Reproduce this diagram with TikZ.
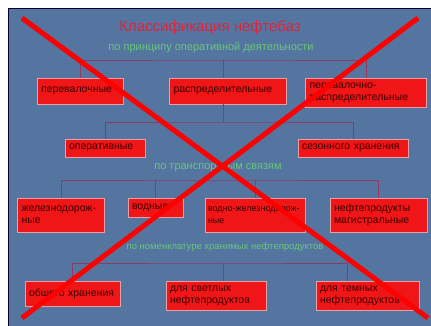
\documentclass[tikz,border=0pt]{standalone}
\usepackage{fontspec}
\setmainfont{Liberation Sans}
\usepackage{tikz}
\usetikzlibrary{positioning,calc}

\definecolor{slideblue}{RGB}{84,117,160}
\definecolor{boxred}{RGB}{240,22,24}
\definecolor{boxedge}{RGB}{232,160,168}
\definecolor{boxtext}{RGB}{60,0,0}
\definecolor{linkred}{RGB}{140,60,100}
\definecolor{subgreen}{RGB}{105,198,122}
\definecolor{headred}{RGB}{225,35,60}

\begin{document}
\begin{tikzpicture}[x=1pt,y=-1pt,
    box/.style={draw=boxedge,line width=0.8pt,fill=boxred,text=boxtext,
      font=\fontsize{10.5}{12}\selectfont,align=left,text width=#1,
      inner xsep=4pt,inner ysep=2pt},
    head/.style={text=headred,font=\fontsize{15}{17}\selectfont},
    sub/.style={text=subgreen,font=\fontsize{#1}{13}\selectfont},
    link/.style={draw=linkred,line width=0.7pt},
    cross/.style={draw=red,line width=5pt}]
    % Slide
    \useasboundingbox (0,0) rectangle (431,326);
    \fill[white] (0,0) rectangle (431,326);
    \draw[fill=slideblue,draw=black!80!blue,line width=1pt] (8.5,8.5) rectangle (431,326);

    % Titles
    \node[head] (title) at (210,28) {Классификация нефтебаз};
    \node[sub=11] (g1) at (211,48) {по принципу оперативной деятельности};
    \node[sub=11] (g2) at (218,168) {по транспортным связям};
    \node[sub=9.5] (g3) at (225,247) {по номенклатуре хранимых нефтепродуктов};

    % Boxes
    \node[box=78pt,minimum height=26pt] (b11) at (80,91) {перевалочные};
    \node[box=109pt,minimum height=26pt] (b12) at (228,91) {распределительные};
    \node[box=113pt,minimum height=29pt] (b13) at (366,92.5) {перевалочно-\\распределительные};
    \node[box=72pt,minimum height=18pt] (b21) at (105,148) {оперативные};
    \node[box=102pt,minimum height=18pt] (b22) at (353,148) {сезонного хранения};
    \node[box=79pt,minimum height=34pt] (b31) at (61,215) {железнодорож-\\ные};
    \node[box=47pt,minimum height=19pt] (b32) at (155.5,207.5) {водные};
    \node[box=94pt,minimum height=34pt,inner xsep=3pt,
      font=\fontsize{9}{12}\selectfont] (b33) at (255,215) {водно-железнодорож-\\ные};
    \node[box=89pt,minimum height=34pt] (b34) at (378.5,215) {нефтепродукты\\магистральные};
    \node[box=87pt,minimum height=25pt] (b41) at (72.5,293.5) {общего хранения};
    \node[box=92pt,minimum height=29pt] (b42) at (216,295.5) {для светлых\\нефтепродуктов};
    \node[box=95pt,minimum height=29pt] (b43) at (367.5,295.5) {для темных\\нефтепродуктов};

    % Connectors
    \coordinate (bus1) at (223,60);
    \draw[link] (b11.north) |- (bus1) -| (b13.north);
    \draw[link] (bus1) -- (bus1 |- b12.north);
    \coordinate (bus2) at (223,122);
    \draw[link] (bus2 |- b12.south) -- (bus2);
    \draw[link] (b21.north) |- (bus2) -| (b22.north);
    \coordinate (bus3) at (223,180);
    \draw[link] (b31.north) |- (bus3) -| (b34.north);
    \draw[link] (b32.north) -- (b32.north |- bus3);
    \draw[link] (b33.north) -- (b33.north |- bus3);
    \coordinate (bus4) at (223,263);
    \coordinate (c43) at (347,263);
    \draw[link] (b41.north) |- (bus4) -- (c43) -- (c43 |- b43.north);
    \draw[link] (bus4) -- (bus4 |- b42.north);

    % Cross
    \draw[cross] (22,18) -- (428,318);
    \draw[cross] (418,18) -- (22,318);
\end{tikzpicture}
\end{document}
